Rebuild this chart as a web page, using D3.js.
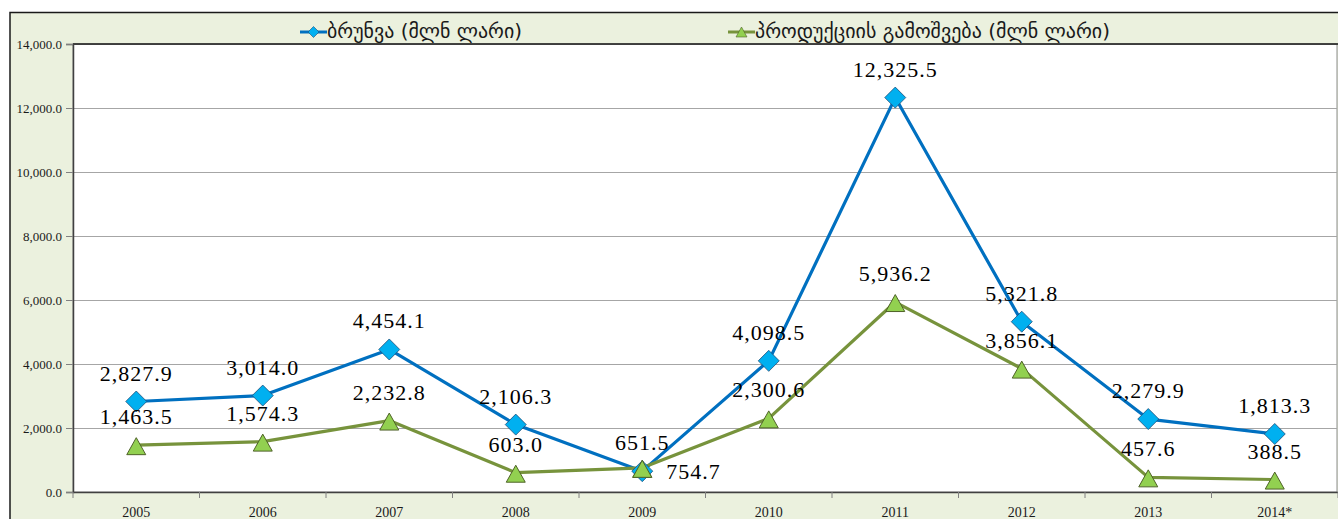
<!DOCTYPE html>
<html>
<head>
<meta charset="utf-8">
<script src="https://cdn.jsdelivr.net/npm/d3@7"></script>
<style>
  html, body { margin: 0; padding: 0; background: #ffffff; }
  svg { display: block; }
</style>
</head>
<body>
<svg id="chart" width="1338" height="519"></svg>
<script>
// ---- data ----
const categories = ["2005", "2006", "2007", "2008", "2009", "2010", "2011", "2012", "2013", "2014*"];
const turnover = [2827.9, 3014.0, 4454.1, 2106.3, 651.5, 4098.5, 12325.5, 5321.8, 2279.9, 1813.3];
const production = [1463.5, 1574.3, 2232.8, 603.0, 754.7, 2300.6, 5936.2, 3856.1, 457.6, 388.5];
const yTicks = [0, 2000, 4000, 6000, 8000, 10000, 12000, 14000];
const seriesNames = ["ბრუნვა (მლნ ლარი)", "პროდუქციის გამოშვება (მლნ ლარი)"];

// ---- layout ----
const W = 1338, H = 519;
const plot = { left: 73, right: 1338, top: 44, bottom: 492 };
const svg = d3.select("#chart");

// chart area background with border
svg.append("rect")
  .attr("x", 10).attr("y", 12.5)
  .attr("width", W + 20).attr("height", H + 20)
  .attr("fill", "#EBF1DE")
  .attr("stroke", "#1a1a1a").attr("stroke-width", 1.5);

// plot area
svg.append("rect")
  .attr("x", plot.left).attr("y", plot.top)
  .attr("width", plot.right - plot.left - 1).attr("height", plot.bottom - plot.top)
  .attr("fill", "#ffffff")
  .attr("stroke", "#8c8c8c").attr("stroke-width", 1);

const x = d3.scaleBand().domain(categories).range([plot.left, plot.right]);
const y = d3.scaleLinear().domain([0, 14000]).range([plot.bottom, plot.top]);

// gridlines
svg.append("g").selectAll("line").data(yTicks.filter(d => d > 0)).join("line")
  .attr("x1", plot.left).attr("x2", plot.right - 1)
  .attr("y1", d => Math.round(y(d)) + 0.5).attr("y2", d => Math.round(y(d)) + 0.5)
  .attr("stroke", "#a6a6a6").attr("stroke-width", 1);

// top dark border line of plot
svg.append("line")
  .attr("x1", plot.left).attr("x2", plot.right)
  .attr("y1", plot.top).attr("y2", plot.top)
  .attr("stroke", "#1a1a1a").attr("stroke-width", 1.5);

// y axis
const yAxis = d3.axisLeft(y).tickValues(yTicks).tickFormat(d3.format(",.1f")).tickSizeOuter(0).tickSize(7).tickPadding(4);
const gy = svg.append("g").attr("transform", `translate(${plot.left},0)`).call(yAxis);
gy.select(".domain").attr("stroke", "#404040").attr("stroke-width", 1.5);
gy.selectAll(".tick line").attr("stroke", "#808080");
gy.selectAll(".tick text")
  .attr("font-family", "'Liberation Serif', 'DejaVu Serif', serif")
  .attr("font-size", 13).attr("fill", "#1a1a1a");

// x axis (ticks between categories)
const xAxis = d3.axisBottom(x).tickSize(0).tickSizeOuter(0);
const gx = svg.append("g").attr("transform", `translate(0,${plot.bottom})`).call(xAxis);
gx.select(".domain").attr("stroke", "#404040").attr("stroke-width", 1.5);
gx.selectAll(".tick text")
  .attr("font-family", "'Liberation Serif', 'DejaVu Serif', serif")
  .attr("font-size", 14).attr("fill", "#1a1a1a")
  .attr("y", 25).attr("dy", null);
svg.append("g").selectAll("line")
  .data(d3.range(categories.length + 1))
  .join("line")
  .attr("x1", i => plot.left + i * x.step()).attr("x2", i => plot.left + i * x.step())
  .attr("y1", plot.bottom).attr("y2", plot.bottom + 6)
  .attr("stroke", "#808080");

const cx = (c) => x(c) + x.bandwidth() / 2;

// lines
const line = d3.line().x((d, i) => cx(categories[i])).y(d => y(d));
svg.append("path").datum(turnover).attr("d", line)
  .attr("fill", "none").attr("stroke", "#0070C0").attr("stroke-width", 3.2).attr("stroke-linejoin", "round");
svg.append("path").datum(production).attr("d", line)
  .attr("fill", "none").attr("stroke", "#77933C").attr("stroke-width", 3.2).attr("stroke-linejoin", "round");

// markers
const diamond = (s) => `M0,${-s}L${s},0L0,${s}L${-s},0Z`;
const triangle = (w, h) => `M0,${-h / 2}L${w / 2},${h / 2}L${-w / 2},${h / 2}Z`;

svg.append("g").selectAll("path").data(production).join("path")
  .attr("d", triangle(19, 17))
  .attr("transform", (d, i) => `translate(${cx(categories[i])},${y(d) + 1})`)
  .attr("fill", "#92D050").attr("stroke", "#4F6228").attr("stroke-width", 1);

svg.append("g").selectAll("path").data(turnover).join("path")
  .attr("d", diamond(10.5))
  .attr("transform", (d, i) => `translate(${cx(categories[i])},${y(d)})`)
  .attr("fill", "#00B0F0").attr("stroke", "#1F4E79").attr("stroke-width", 0.8);

// in the reference the 2009 triangle sits on top of the diamond
svg.append("path")
  .attr("d", triangle(19, 17))
  .attr("transform", `translate(${cx(categories[4])},${y(production[4]) + 1})`)
  .attr("fill", "#92D050").attr("stroke", "#4F6228").attr("stroke-width", 1);

// data labels
const fmt = d3.format(",.1f");
const labelFont = "'Liberation Serif', 'DejaVu Serif', serif";
svg.append("g").selectAll("text").data(turnover).join("text")
  .attr("x", (d, i) => cx(categories[i]))
  .attr("y", d => y(d) - 21)
  .attr("text-anchor", "middle")
  .attr("font-family", labelFont).attr("font-size", 22)
  .attr("letter-spacing", 1)
  .attr("fill", "#000")
  .text(d => fmt(d));
// production labels; the 2009 one sits to the right of its marker
svg.append("g").selectAll("text").data(production).join("text")
  .attr("x", (d, i) => i === 4 ? cx(categories[i]) + 24 : cx(categories[i]))
  .attr("y", (d, i) => i === 4 ? y(d) + 11 : y(d) - 21)
  .attr("text-anchor", (d, i) => i === 4 ? "start" : "middle")
  .attr("font-family", labelFont).attr("font-size", 22)
  .attr("letter-spacing", 1)
  .attr("fill", "#000")
  .text(d => fmt(d));

// legend
const legendY = 32;
const leg = svg.append("g");
// series 1
leg.append("line").attr("x1", 300).attr("x2", 327).attr("y1", legendY).attr("y2", legendY)
  .attr("stroke", "#0070C0").attr("stroke-width", 3);
leg.append("path").attr("d", diamond(5.5)).attr("transform", `translate(313.5,${legendY})`)
  .attr("fill", "#00B0F0").attr("stroke", "#1F4E79").attr("stroke-width", 0.6);
leg.append("text").attr("x", 327).attr("y", legendY + 6)
  .attr("font-family", "'DejaVu Sans', sans-serif").attr("font-size", 19)
  .attr("textLength", 195).attr("lengthAdjust", "spacingAndGlyphs")
  .attr("fill", "#1a1a1a").text(seriesNames[0]);
// series 2
leg.append("line").attr("x1", 728).attr("x2", 755).attr("y1", legendY).attr("y2", legendY)
  .attr("stroke", "#77933C").attr("stroke-width", 3);
leg.append("path").attr("d", triangle(11, 10)).attr("transform", `translate(741.5,${legendY})`)
  .attr("fill", "#92D050").attr("stroke", "#4F6228").attr("stroke-width", 0.6);
leg.append("text").attr("x", 755).attr("y", legendY + 6)
  .attr("font-family", "'DejaVu Sans', sans-serif").attr("font-size", 19)
  .attr("textLength", 355).attr("lengthAdjust", "spacingAndGlyphs")
  .attr("fill", "#1a1a1a").text(seriesNames[1]);
</script>
</body>
</html>
